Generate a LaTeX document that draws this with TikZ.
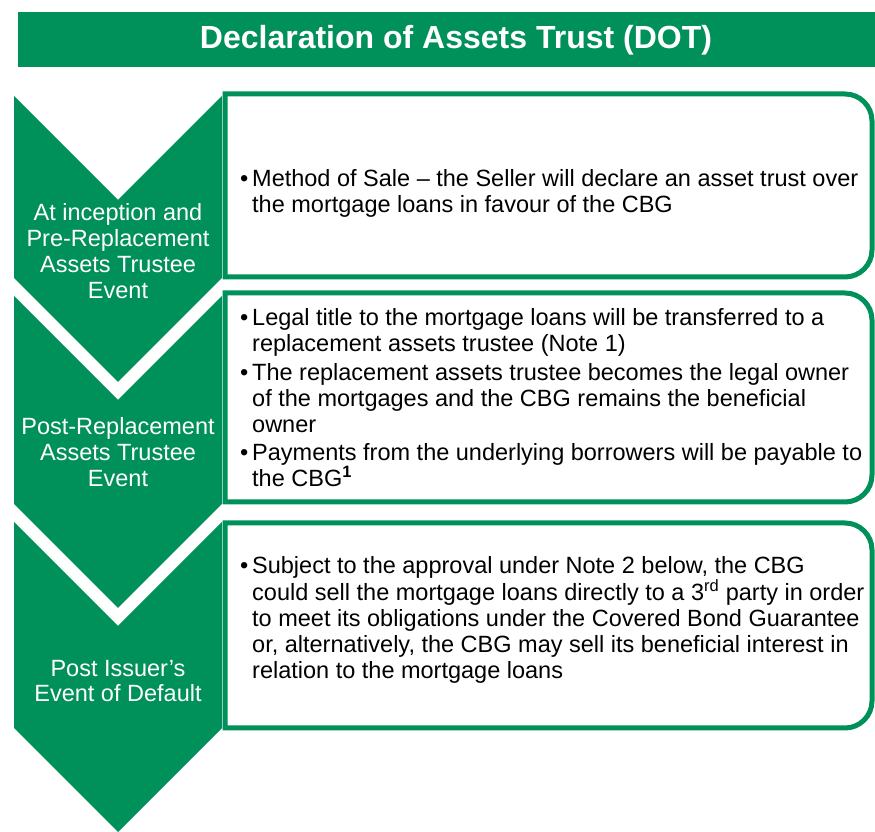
\documentclass[tikz,border=0pt]{standalone}
\usepackage{fontspec}
\setmainfont{Liberation Sans}
\usepackage{tikz}
\definecolor{dotgreen}{HTML}{00905A}
\newcommand{\itm}{\makebox[12pt][l]{\textbullet}}
\newcommand{\cnt}{\hspace*{12pt}}

\begin{document}
\begin{tikzpicture}[x=1pt,y=1pt,
    boxline/.style={draw=dotgreen,line width=5pt,fill=white},
    chev/.style={fill=dotgreen},
    lab/.style={text=white,align=center,inner sep=0pt,font=\fontsize{23.5}{25.8}\selectfont},
    body/.style={anchor=west,align=left,inner sep=0pt,font=\fontsize{23.5}{25.8}\selectfont}]
  \useasboundingbox (0,0) rectangle (875,832);
  % title bar
  \fill[dotgreen] (18,765) rectangle (875,820);
  \node[text=white,font=\fontsize{32}{38}\selectfont\bfseries] (title) at (456,791.5) {Declaration of Assets Trust (DOT)};
  % boxes
  \draw[boxline] (225,738) -- (845,738) arc[start angle=90,end angle=0,radius=27]
    -- (872,582) arc[start angle=0,end angle=-90,radius=27] -- (225,555) -- cycle;
  \draw[boxline] (225,539) -- (845,539) arc[start angle=90,end angle=0,radius=27]
    -- (872,357) arc[start angle=0,end angle=-90,radius=27] -- (225,330) -- cycle;
  \draw[boxline] (225,309) -- (845,309) arc[start angle=90,end angle=0,radius=27]
    -- (872,131) arc[start angle=0,end angle=-90,radius=27] -- (225,104) -- cycle;
  % chevrons
  \fill[chev] (14,736) -- (118,632) -- (222,736) -- (222,554) -- (118,450) -- (14,554) -- cycle;
  \fill[chev] (14,536) -- (118,432) -- (222,536) -- (222,328) -- (118,224) -- (14,328) -- cycle;
  \fill[chev] (14,310) -- (118,206) -- (222,310) -- (222,104) -- (118,0) -- (14,104) -- cycle;
  % labels
  \node[lab] (lab1) at (118,581) {At inception and\\Pre-Replacement\\Assets Trustee\\Event};
  \node[lab] (lab2) at (118,380) {Post-Replacement\\Assets Trustee\\Event};
  \node[lab] (lab3) at (118,151) {Post Issuer’s\\Event of Default};
  % texts
  \node[body] (txt1) at (240,638.5) {\itm Method of Sale – the Seller will declare an asset trust over\\
    \cnt the mortgage loans in favour of the CBG};
  \node[body] (txt2) at (240,434) {\itm Legal title to the mortgage loans will be transferred to a\\
    \cnt replacement assets trustee (Note 1)\\[3pt]
    \itm The replacement assets trustee becomes the legal owner\\
    \cnt of the mortgages and the CBG remains the beneficial\\
    \cnt owner\\[3pt]
    \itm Payments from the underlying borrowers will be payable to\\
    \cnt the CBG\textsuperscript{\textbf{1}}};
  \node[body] (txt3) at (240,212) {\itm Subject to the approval under Note 2 below, the CBG\\
    \cnt could sell the mortgage loans directly to a 3\textsuperscript{rd} party in order\\
    \cnt to meet its obligations under the Covered Bond Guarantee\\
    \cnt or, alternatively, the CBG may sell its beneficial interest in\\
    \cnt relation to the mortgage loans};
\end{tikzpicture}
\end{document}
